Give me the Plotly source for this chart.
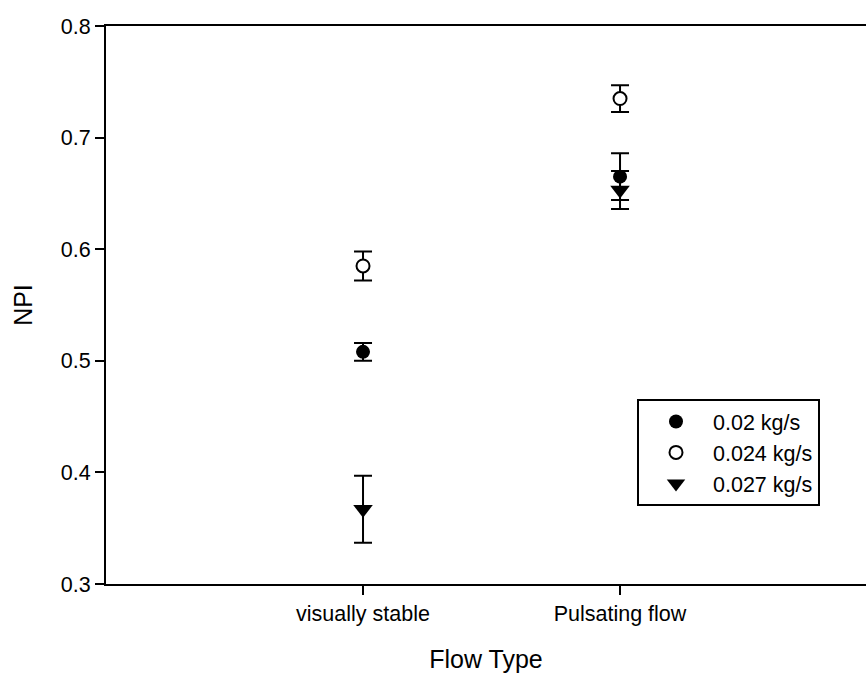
import plotly.graph_objects as go

categories = ["visually stable", "Pulsating flow"]
cat_pos = [1, 2]

series_names = ["0.02 kg/s", "0.024 kg/s", "0.027 kg/s"]
npi_002 = [0.508, 0.665]
err_002 = [0.008, 0.021]
npi_0024 = [0.585, 0.735]
err_0024 = [0.013, 0.012]
npi_0027 = [0.367, 0.653]
err_0027 = [0.030, 0.017]

y_ticks = [0.3, 0.4, 0.5, 0.6, 0.7, 0.8]

FONT = "Liberation Sans, Arial, sans-serif"

def err(vals):
    return dict(type="data", array=vals, visible=True, color="black", thickness=2, width=9)

fig = go.Figure()
fig.add_trace(go.Scatter(
    x=cat_pos, y=npi_002, mode="markers", name=series_names[0],
    marker=dict(symbol="circle", size=14, color="black", line=dict(width=0)),
    error_y=err(err_002)))
fig.add_trace(go.Scatter(
    x=cat_pos, y=npi_0024, mode="markers", name=series_names[1],
    marker=dict(symbol="circle", size=13, color="white", line=dict(width=2, color="black")),
    error_y=err(err_0024)))
fig.add_trace(go.Scatter(
    x=cat_pos, y=npi_0027, mode="markers", name=series_names[2],
    marker=dict(symbol="triangle-down", size=17, color="black", line=dict(width=0)),
    error_y=err(err_0027)))

fig.update_layout(
    width=866, height=673,
    margin=dict(l=106, r=0, t=26, b=89),
    paper_bgcolor="white", plot_bgcolor="white",
    font=dict(family=FONT, size=21.5, color="black"),
    showlegend=True,
    legend=dict(
        x=(637 - 106) / 760, y=1 - (399 - 26) / 558,
        xanchor="left", yanchor="top",
        bgcolor="white", bordercolor="black", borderwidth=2,
        font=dict(family=FONT, size=21.5, color="black"),
        itemwidth=64,
    ),
    xaxis=dict(
        range=[0, 2.957], tickmode="array", tickvals=cat_pos, ticktext=categories,
        showgrid=False, zeroline=False,
        showline=True, linecolor="black", linewidth=2, mirror=True,
        ticks="outside", ticklen=9, tickwidth=2, tickcolor="black",
        tickfont=dict(family=FONT, size=21.5),
        title=dict(text="Flow Type", font=dict(family=FONT, size=25), standoff=30),
    ),
    yaxis=dict(
        range=[0.3, 0.8], tickmode="array", tickvals=y_ticks,
        ticktext=[f"{v:.1f}" for v in y_ticks],
        showgrid=False, zeroline=False,
        showline=True, linecolor="black", linewidth=2, mirror=False,
        ticks="outside", ticklen=9, tickwidth=2, tickcolor="black",
        tickfont=dict(family=FONT, size=21.5),
        title=dict(text="NPI", font=dict(family=FONT, size=25), standoff=21),
    ),
)

fig.write_html("out.html")
